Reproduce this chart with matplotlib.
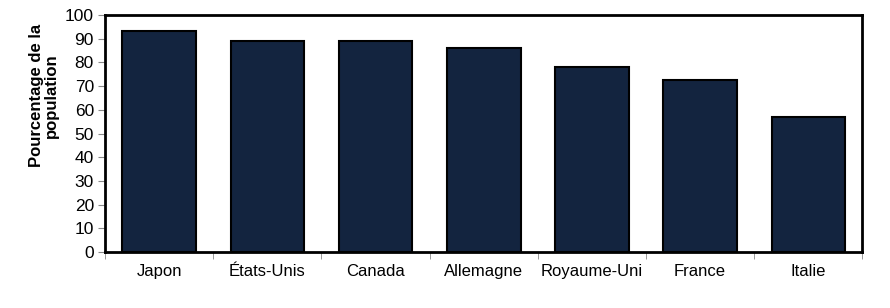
import matplotlib
matplotlib.use("Agg")
import matplotlib.pyplot as plt

categories = ["Japon", "États-Unis", "Canada", "Allemagne", "Royaume-Uni", "France", "Italie"]
values = [93.2, 89.0, 89.0, 86.2, 78.1, 72.4, 57.1]
yticks = [0, 10, 20, 30, 40, 50, 60, 70, 80, 90, 100]

plt.rcParams['font.family'] = ['Liberation Sans', 'DejaVu Sans']

fig = plt.figure(figsize=(8.9, 3.08), dpi=100)
ax = fig.add_axes([0.118, 0.182, 0.851, 0.769])

x = list(range(len(categories)))
ax.bar(x, values, width=0.68, color="#13243f", edgecolor="black", linewidth=1.5, zorder=2)

ax.set_xlim(-0.5, len(categories) - 0.5)
ax.set_ylim(0, 100)
ax.set_yticks(yticks)
ax.set_yticklabels([str(t) for t in yticks], fontsize=12.5)
ax.set_xticks(x)
ax.set_xticklabels(categories, fontsize=12)
ax.set_xticks([i - 0.5 for i in range(len(categories) + 1)], minor=True)
ax.tick_params(axis='x', which='major', length=0, pad=9)
ax.tick_params(axis='x', which='minor', length=5, color='#888888', direction='out')
ax.tick_params(axis='y', length=5, color='#888888', direction='out', pad=3)

for s in ax.spines.values():
    s.set_linewidth(2)
    s.set_color('black')

ax.set_ylabel("Pourcentage de la\npopulation", fontsize=12, fontweight='bold', linespacing=1.0, labelpad=6)
ax.yaxis.set_label_coords(-0.061, 0.66)

fig.savefig("out.png", dpi=100)
